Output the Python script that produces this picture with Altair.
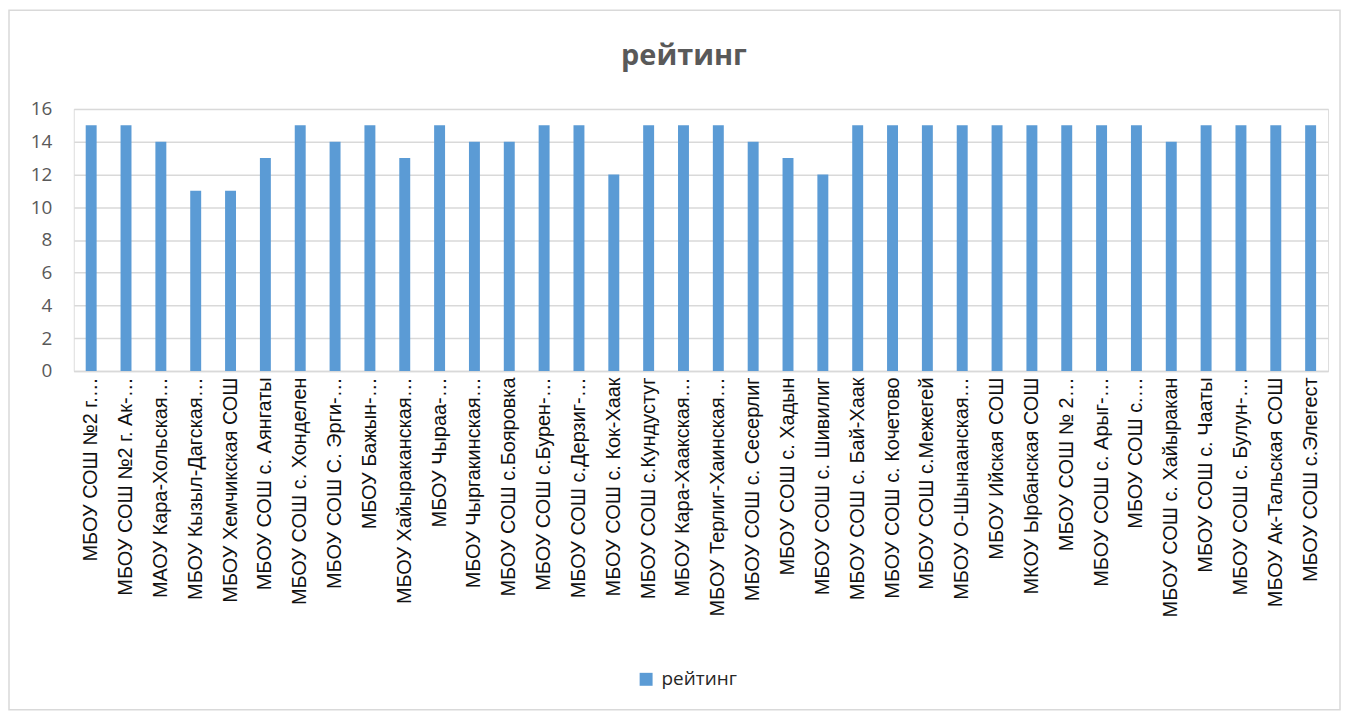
import altair as alt
import pandas as pd

schools = [
    "МБОУ СОШ №2 г.…",
    "МБОУ СОШ №2 г. Ак-…",
    "МАОУ Кара-Хольская…",
    "МБОУ Кызыл-Дагская…",
    "МБОУ Хемчикская СОШ",
    "МБОУ СОШ с. Аянгаты",
    "МБОУ СОШ с. Хонделен",
    "МБОУ СОШ С. Эрги-…",
    "МБОУ Бажын-…",
    "МБОУ Хайыраканская…",
    "МБОУ Чыраа-…",
    "МБОУ Чыргакинская…",
    "МБОУ СОШ с.Бояровка",
    "МБОУ СОШ с.Бурен-…",
    "МБОУ СОШ с.Дерзиг-…",
    "МБОУ СОШ  с. Кок-Хаак",
    "МБОУ СОШ с.Кундустуг",
    "МБОУ Кара-Хаакская…",
    "МБОУ Терлиг-Хаинская…",
    "МБОУ СОШ с. Сесерлиг",
    "МБОУ СОШ с. Хадын",
    "МБОУ СОШ с. Шивилиг",
    "МБОУ СОШ с. Бай-Хаак",
    "МБОУ СОШ с. Кочетово",
    "МБОУ СОШ с.Межегей",
    "МБОУ О-Шынаанская…",
    "МБОУ  Ийская СОШ",
    "МКОУ Ырбанская СОШ",
    "МБОУ СОШ № 2…",
    "МБОУ СОШ с. Арыг-…",
    "МБОУ СОШ с.…",
    "МБОУ СОШ с. Хайыракан",
    "МБОУ СОШ с. Чааты",
    "МБОУ СОШ с. Булун-…",
    "МБОУ Ак-Тальская СОШ",
    "МБОУ СОШ с.Элегест",
]
rating = [15, 15, 14, 11, 11, 13, 15, 14, 15, 13, 15, 14, 14, 15, 15, 12, 15, 15,
          15, 14, 13, 12, 15, 15, 15, 15, 15, 15, 15, 15, 15, 14, 15, 15, 15, 15]
series_name = "рейтинг"
y_ticks = [0, 2, 4, 6, 8, 10, 12, 14, 16]

df = pd.DataFrame({"school": schools, "value": rating, "series": [series_name] * len(schools)})

W, H = 1259, 263

bars = alt.Chart(df).mark_bar(color="#5B9BD5").encode(
    x=alt.X("school:N", sort=schools,
            scale=alt.Scale(paddingInner=0.686, paddingOuter=0.343),
            axis=alt.Axis(title=None, labelAngle=-90, labelAlign="right", labelBaseline="middle",
                          labelFont="Liberation Sans", labelFontSize=20, labelColor="#111111",
                          labelPadding=6, ticks=False, domainColor="#D9D9D9", domainWidth=1.5,
                          labelLimit=400, grid=False)),
    y=alt.Y("value:Q", scale=alt.Scale(domain=[0, 16], nice=False),
            axis=alt.Axis(title=None, values=y_ticks, labelFont="Open Sans", labelFontSize=19,
                          labelColor="#595959", labelPadding=22, ticks=False, domain=False,
                          gridColor="#D9D9D9", gridWidth=1.5)),
    color=alt.Color("series:N", scale=alt.Scale(range=["#5B9BD5"]),
                    legend=alt.Legend(title=None, orient="none", legendX=565, legendY=563,
                                      symbolType="square", symbolSize=169, symbolStrokeWidth=0,
                                      labelFont="Open Sans", labelFontSize=19, labelColor="#262626",
                                      padding=0, labelOffset=6)),
)

frame = alt.Chart(pd.DataFrame({"f": [0]})).mark_rect(
    fill=None, stroke="#D9D9D9", strokeWidth=1.5, clip=False
).encode(x=alt.value(-65), x2=alt.value(1271), y=alt.value(-99), y2=alt.value(603))

chart = alt.layer(frame, bars).properties(
    width=W, height=H,
    title=alt.TitleParams("рейтинг", font="Open Sans", fontSize=29, fontWeight="bold",
                          color="#595959", offset=27, dx=-17, dy=89),
    autosize=alt.AutoSizeParams(type="none"),
    padding={"left": 66, "top": 100, "right": 14, "bottom": 342},
).configure_view(stroke=None).configure(background="white")

chart.save("out.html", embed_options={"renderer": "svg", "actions": False})
